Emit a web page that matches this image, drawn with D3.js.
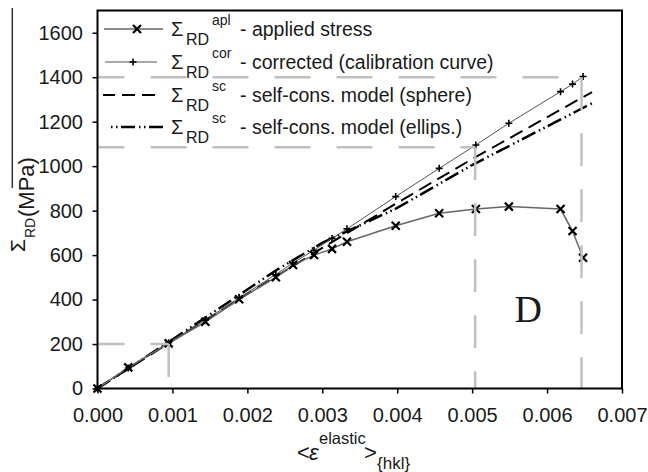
<!DOCTYPE html>
<html>
<head>
<meta charset="utf-8">
<script src="https://cdn.jsdelivr.net/npm/d3@7"></script>
<style>
  html, body { margin: 0; padding: 0; background: #fff; }
  svg { display: block; }
  text { font-family: "Liberation Sans", Arial, sans-serif; fill: #1a1a1a; }
</style>
</head>
<body>
<svg id="chart" width="648" height="472"></svg>
<script>
// ---------- data ----------
const strainApplied = [0, 0.00041, 0.00095, 0.00144, 0.00189, 0.00238, 0.00261, 0.00289, 0.00313, 0.00333, 0.00398, 0.00456, 0.00505, 0.00549, 0.00618, 0.00634, 0.00648];
const stressApplied = [0, 95, 203, 300, 401, 500, 555, 600, 628, 660, 732, 788, 807, 818, 807, 708, 588];
const stressCorrected = [0, 92, 206, 308, 408, 513, 565, 622, 675, 718, 863, 990, 1095, 1193, 1335, 1369, 1403];

const strainSphere = [0, 0.001, 0.002, 0.003, 0.004, 0.005, 0.0066];
const stressSphere = [0, 215, 425, 632, 835, 1032, 1333];
const strainEllips = [0, 0.001, 0.002, 0.0024, 0.003, 0.004, 0.005, 0.0066];
const stressEllips = [0, 220, 445, 535, 655, 812, 1005, 1283];

// guide lines (corner points)
const guideStrain = [0.00095, 0.00504, 0.00646];
const guideStress = [200, 1085, 1400];

const xTicks = [0, 0.001, 0.002, 0.003, 0.004, 0.005, 0.006, 0.007];
const yTicks = [0, 200, 400, 600, 800, 1000, 1200, 1400, 1600];

const legendNames = ["apl", "cor", "sc", "sc"];
const legendTexts = ["- applied stress", "- corrected (calibration curve)", "- self-cons. model (sphere)", "- self-cons. model (ellips.)"];

// ---------- layout ----------
const svg = d3.select("#chart");
const L = 97.5, R = 622, T = 10.5, B = 388.5;
const x = d3.scaleLinear().domain([0, 0.007]).range([L, R]);
const y = d3.scaleLinear().domain([0, 1700]).range([B, T]);

// stray line at the left edge
svg.append("line").attr("x1", 12.3).attr("x2", 12.3).attr("y1", 8).attr("y2", 188)
  .attr("stroke", "#333").attr("stroke-width", 1.5);

// axes
const gy = svg.append("g").attr("transform", `translate(${L},0)`)
  .call(d3.axisLeft(y).tickValues(yTicks).tickSize(5).tickPadding(9.5).tickFormat(d3.format("d")));
gy.select(".domain").remove();
gy.selectAll(".tick line").attr("stroke", "#000").attr("stroke-width", 1.5);
gy.selectAll(".tick text").style("font-size", "20px").attr("fill", "#1a1a1a")
  .style("font-family", "'Liberation Sans', Arial, sans-serif");

const gx = svg.append("g").attr("transform", `translate(0,${B})`)
  .call(d3.axisBottom(x).tickValues(xTicks).tickSize(5).tickPadding(14.5).tickFormat(d3.format(".3f")));
gx.select(".domain").remove();
gx.selectAll(".tick line").attr("stroke", "#000").attr("stroke-width", 1.5);
gx.selectAll(".tick text").style("font-size", "20px").attr("fill", "#1a1a1a")
  .style("font-family", "'Liberation Sans', Arial, sans-serif");

// series
const line = d3.line().x(d => x(d[0])).y(d => y(d[1]));
const sphere = strainSphere.map((s, i) => [s, stressSphere[i]]);
const ellips = strainEllips.map((s, i) => [s, stressEllips[i]]);
const applied = strainApplied.map((s, i) => [s, stressApplied[i]]);
const corrected = strainApplied.map((s, i) => [s, stressCorrected[i]]);

svg.append("path").attr("d", line(sphere)).attr("fill", "none")
  .attr("stroke", "#000").attr("stroke-width", 2).attr("stroke-dasharray", "14,7");
svg.append("path").attr("d", line(ellips)).attr("fill", "none")
  .attr("stroke", "#000").attr("stroke-width", 2.5).attr("stroke-dasharray", "15,4,1.5,3.5,1.5,3.5");
svg.append("path").attr("d", line(corrected)).attr("fill", "none")
  .attr("stroke", "#555").attr("stroke-width", 1);
svg.append("path").attr("d", line(applied)).attr("fill", "none")
  .attr("stroke", "#666").attr("stroke-width", 1.5);

function cross(g, cx, cy, s) {
  g.append("path").attr("d", `M${cx - s},${cy - s}L${cx + s},${cy + s}M${cx - s},${cy + s}L${cx + s},${cy - s}`)
    .attr("stroke", "#000").attr("stroke-width", 2.2).attr("fill", "none");
}
function plus(g, cx, cy, s) {
  g.append("path").attr("d", `M${cx - s},${cy}L${cx + s},${cy}M${cx},${cy - s}L${cx},${cy + s}`)
    .attr("stroke", "#000").attr("stroke-width", 1.6).attr("fill", "none");
}
const gm = svg.append("g");
corrected.forEach(d => plus(gm, x(d[0]), y(d[1]), 3.5));
applied.forEach(d => cross(gm, x(d[0]), y(d[1]), 4));

// guides (drawn on top)
const gg = svg.append("g").attr("stroke", "#c0c0c0").attr("stroke-width", 2.5).attr("fill", "none");
guideStrain.forEach((s, i) => {
  gg.append("line").attr("x1", L).attr("x2", x(s)).attr("y1", y(guideStress[i])).attr("y2", y(guideStress[i]))
    .attr("stroke-dasharray", "36,26").attr("stroke-dashoffset", 9);
  gg.append("line").attr("x1", x(s)).attr("x2", x(s)).attr("y1", y(guideStress[i])).attr("y2", B)
    .attr("stroke-dasharray", "33,23");
});

// frame
svg.append("rect").attr("x", L).attr("y", T).attr("width", R - L).attr("height", B - T)
  .attr("fill", "none").attr("stroke", "#000").attr("stroke-width", 2);

// D label
svg.append("text").attr("x", 514.5).attr("y", 321.5).text("D")
  .style("font-family", "'Liberation Serif', 'Times New Roman', serif").style("font-size", "38px").attr("fill", "#000");

// legend
const rowsY = [29, 62, 95, 127];
const lg = svg.append("g");
lg.append("line").attr("x1", 104).attr("x2", 163).attr("y1", rowsY[0]).attr("y2", rowsY[0]).attr("stroke", "#666").attr("stroke-width", 1.5);
cross(lg, 137, rowsY[0], 4);
lg.append("line").attr("x1", 105).attr("x2", 157).attr("y1", rowsY[1]).attr("y2", rowsY[1]).attr("stroke", "#555").attr("stroke-width", 1);
plus(lg, 133, rowsY[1], 3.5);
lg.append("line").attr("x1", 103).attr("x2", 155).attr("y1", rowsY[2]).attr("y2", rowsY[2]).attr("stroke", "#000").attr("stroke-width", 2)
  .attr("stroke-dasharray", "13,7").attr("stroke-dashoffset", 1);
lg.append("line").attr("x1", 111).attr("x2", 163).attr("y1", rowsY[3]).attr("y2", rowsY[3]).attr("stroke", "#000").attr("stroke-width", 2.5)
  .attr("stroke-dasharray", "1.5,3.5,1.5,3.5,14,4");

rowsY.forEach((ry, i) => {
  lg.append("text").attr("x", 171).attr("y", ry + 7).text("\u03A3").style("font-size", "20px");
  lg.append("text").attr("x", 186).attr("y", ry + 15.5).text("RD").style("font-size", "16px");
  lg.append("text").attr("x", 212).attr("y", ry - 4).text(legendNames[i]).style("font-size", "14px");
  lg.append("text").attr("x", 240).attr("y", ry + 6.5).text(legendTexts[i]).style("font-size", "19.5px");
});

// y-axis title (rotated)
const yt = svg.append("g").attr("transform", "translate(34,252) rotate(-90)");
yt.append("text").attr("x", 0).attr("y", -9).text("\u03A3").style("font-size", "21px");
yt.append("text").attr("x", 14).attr("y", 1).text("RD").style("font-size", "14px");
yt.append("text").attr("x", 35).attr("y", 0).text("(MPa)").style("font-size", "22px");

// x-axis title
const xt = svg.append("g");
xt.append("text").attr("x", 297).attr("y", 460).text("<").style("font-size", "22px");
xt.append("text").attr("x", 309).attr("y", 460).text("\u03B5").style("font-size", "22px").style("font-style", "italic");
xt.append("text").attr("x", 319).attr("y", 444).text("elastic").style("font-size", "16.5px");
xt.append("text").attr("x", 364).attr("y", 460).text(">").style("font-size", "22px");
xt.append("text").attr("x", 377).attr("y", 469).text("{hkl}").style("font-size", "17px");
</script>
</body>
</html>
